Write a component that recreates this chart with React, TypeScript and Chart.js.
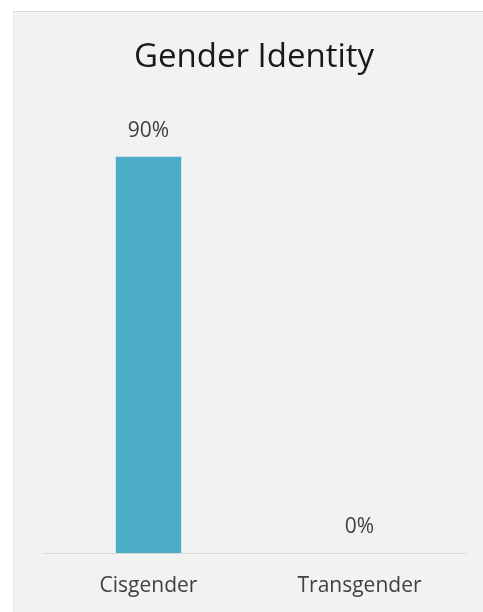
import React, { useEffect, useRef } from "react";
import { Chart, registerables } from "chart.js";

Chart.register(...registerables);

const categories = ["Cisgender", "Transgender"];
const values = [90, 0];
const titleText = "Gender Identity";

const FONT = "'Open Sans', 'Noto Sans', sans-serif";
const TEXT = "#404040";

const valueLabels = {
  id: "valueLabels",
  afterDatasetsDraw(chart: any) {
    const ctx = chart.ctx;
    const meta = chart.getDatasetMeta(0);
    ctx.save();
    ctx.fillStyle = TEXT;
    ctx.font = `21px ${FONT}`;
    ctx.textAlign = "center";
    ctx.textBaseline = "middle";
    meta.data.forEach((bar: any, i: number) => {
      ctx.fillText(values[i] + "%", bar.x, bar.y - 26);
    });
    ctx.restore();
  },
};

export default function App() {
  const ref = useRef<HTMLCanvasElement>(null);
  useEffect(() => {
    if (!ref.current) return;
    const chart = new Chart(ref.current, {
      type: "bar",
      data: {
        labels: categories,
        datasets: [
          {
            data: values,
            backgroundColor: "#4bacc6",
            barPercentage: 0.31,
            categoryPercentage: 1,
          },
        ],
      },
      options: {
        animation: false,
        responsive: false,
        maintainAspectRatio: false,
        layout: { padding: { left: 29, right: 18, top: 0, bottom: 12 } },
        plugins: {
          legend: { display: false },
          tooltip: { enabled: false },
          title: {
            display: true,
            text: titleText,
            color: "#1a1a1a",
            font: { family: FONT, size: 33, weight: "normal" },
            padding: { top: 26, bottom: 35 },
          },
        },
        scales: {
          x: {
            grid: { display: false, drawTicks: false },
            border: { display: true, color: "#d9d9d9", width: 1 },
            ticks: { color: TEXT, font: { family: FONT, size: 21 }, padding: 20 },
            afterFit: (scale: any) => {
              scale.height = 47;
            },
          },
          y: { display: false, min: 0, max: 100 },
        },
      },
      plugins: [valueLabels],
    });
    return () => chart.destroy();
  }, []);
  return (
    <div style={{ position: "fixed", left: 0, top: 0, width: 483, height: 612, background: "#ffffff" }}>
      <div
        style={{
          position: "absolute",
          left: 13,
          top: 11,
          width: 470,
          height: 601,
          background: "#f2f2f2",
          borderTop: "1px solid #d9d9d9",
          borderLeft: "1px solid #e6e6e6",
          boxSizing: "border-box",
        }}
      >
        <canvas ref={ref} width={469} height={600} style={{ display: "block" }} />
      </div>
    </div>
  );
}
